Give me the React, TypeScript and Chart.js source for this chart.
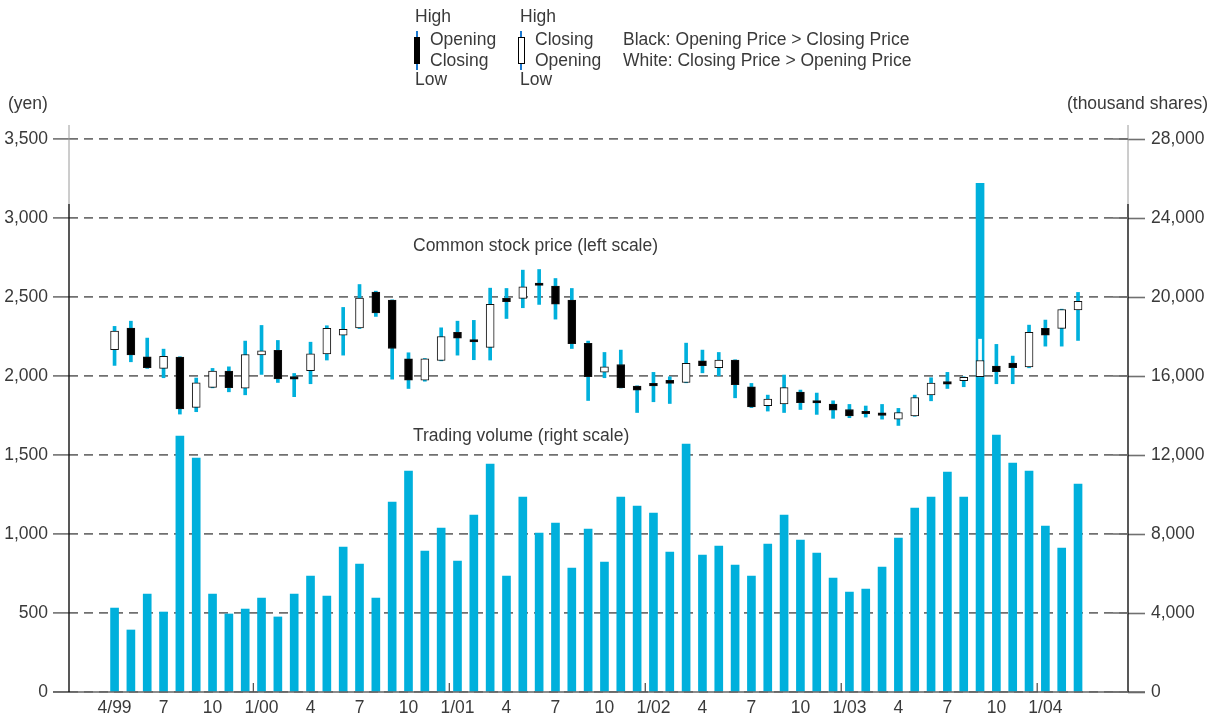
import React, { useEffect, useRef } from 'react';
import { Chart, registerables } from 'chart.js';

Chart.register(...registerables);

// Monthly data, April 1999 – March 2004 (60 months)
const opens = [
  2166, 2303, 2122, 2048, 2120, 1801, 1928, 2031, 1923, 2134,
  2162, 1985, 2033, 2139, 2259, 2305, 2531, 2480, 2109, 1974,
  2098, 2276, 2219, 2181, 2491, 2491, 2577, 2569, 2480, 2206,
  2025, 2073, 1936, 1942, 1972, 1959, 2096, 2052, 2101, 1932,
  1812, 1824, 1898, 1845, 1822, 1788, 1765, 1755, 1727, 1748,
  1881, 1953, 1970, 1995, 2063, 2082, 2058, 2301, 2301, 2419,
];
const highs = [
  2314, 2347, 2240, 2170, 2122, 1987, 2048, 2058, 2221, 2320,
  2225, 2016, 2214, 2318, 2434, 2579, 2537, 2482, 2147, 2111,
  2305, 2347, 2352, 2556, 2554, 2670, 2674, 2617, 2554, 2221,
  2149, 2164, 1938, 2023, 1995, 2208, 2164, 2149, 2103, 1953,
  1879, 2006, 1911, 1892, 1843, 1820, 1810, 1820, 1795, 1879,
  1989, 2023, 1995, 2233, 2200, 2126, 2322, 2354, 2423, 2529,
];
const lows = [
  2067, 2090, 2048, 1989, 1759, 1774, 1925, 1900, 1881, 2010,
  1959, 1869, 1951, 2101, 2132, 2300, 2377, 1980, 1921, 1967,
  2096, 2132, 2103, 2101, 2364, 2432, 2453, 2360, 2174, 1845,
  1989, 1924, 1769, 1837, 1826, 1957, 2020, 2001, 1862, 1800,
  1778, 1769, 1788, 1757, 1732, 1736, 1740, 1727, 1687, 1745,
  1843, 1921, 1932, 1995, 1951, 1951, 2052, 2189, 2189, 2225,
];
const closes = [
  2284, 2134, 2052, 2124, 1791, 1957, 2031, 1926, 2136, 2160,
  1982, 1980, 2141, 2301, 2295, 2493, 2400, 2174, 1974, 2109,
  2250, 2240, 2215, 2453, 2470, 2565, 2573, 2455, 2204, 1995,
  2058, 1926, 1911, 1938, 1953, 2080, 2065, 2101, 1945, 1805,
  1854, 1926, 1831, 1829, 1784, 1748, 1761, 1751, 1769, 1864,
  1955, 1949, 1991, 2098, 2027, 2052, 2276, 2259, 2421, 2472,
];
// Trading volume (thousand shares)
const volumes = [
  4250, 3140, 4960, 4050, 12960, 11840, 4960, 3950, 4200, 4760,
  3800, 4960, 5870, 4860, 7340, 6480, 4760, 9620, 11190, 7140,
  8300, 6630, 8960, 11540, 5870, 9870, 8050, 8550, 6280, 8250,
  6580, 9870, 9410, 9060, 7090, 12550, 6930, 7390, 6430, 5870,
  7490, 8960, 7690, 7040, 5770, 5060, 5210, 6330, 7790, 9310,
  9870, 11130, 9870, 25760, 13010, 11590, 11190, 8400, 7290, 10530,
];
// x-axis labels, one every three months starting at index 0 (4/99)
const xTickLabels = [
  '4/99', '7', '10', '1/00', '4', '7', '10', '1/01', '4', '7',
  '10', '1/02', '4', '7', '10', '1/03', '4', '7', '10', '1/04',
];
// positions of year boundaries (between Dec and Jan)
const yearBoundaries = [8.5, 20.5, 32.5, 44.5, 56.5];
const priceTicks = [0, 500, 1000, 1500, 2000, 2500, 3000, 3500];
const volumeTicks = [0, 4000, 8000, 12000, 16000, 20000, 24000, 28000];

const CYAN = '#00b0dc';
const GRID = '#707070';
const TEXT = '#3a3a3a';
const FONT_FAMILY = "'Liberation Sans', Arial, Helvetica, sans-serif";
const FONT_SIZE = 17.5;

const overlayPlugin = {
  id: 'overlay',
  afterDraw(chart: any) {
    const ctx = chart.ctx as CanvasRenderingContext2D;
    const area = chart.chartArea;
    const xs = chart.scales.x;
    const yp = chart.scales.yPrice;
    ctx.save();
    // solid zero line
    ctx.strokeStyle = '#666';
    ctx.lineWidth = 1.6;
    ctx.beginPath();
    ctx.moveTo(area.left - 16, area.bottom);
    ctx.lineTo(area.right + 17, area.bottom);
    ctx.stroke();
    // axis lines (extend a bit above the plot)
    const drawAxis = (x: number) => {
      ctx.lineWidth = 1;
      ctx.strokeStyle = '#9a9a9a';
      ctx.beginPath();
      ctx.moveTo(x, 125);
      ctx.lineTo(x, 204);
      ctx.stroke();
      ctx.lineWidth = 1.4;
      ctx.strokeStyle = '#111';
      ctx.beginPath();
      ctx.moveTo(x, 204);
      ctx.lineTo(x, area.bottom);
      ctx.stroke();
    };
    drawAxis(area.left);
    drawAxis(area.right);
    // inner solid ticks on the right axis
    ctx.strokeStyle = GRID;
    ctx.lineWidth = 1.6;
    priceTicks.forEach((v) => {
      const y = yp.getPixelForValue(v);
      ctx.beginPath();
      ctx.moveTo(area.right - 15, y);
      ctx.lineTo(area.right, y);
      ctx.stroke();
    });
    // year boundary ticks
    ctx.strokeStyle = '#555';
    ctx.lineWidth = 1.3;
    yearBoundaries.forEach((v) => {
      const x = xs.getPixelForValue(v);
      ctx.beginPath();
      ctx.moveTo(x, area.bottom - 9);
      ctx.lineTo(x, area.bottom);
      ctx.stroke();
    });

    // texts
    ctx.fillStyle = TEXT;
    ctx.font = `${FONT_SIZE}px ${FONT_FAMILY}`;
    ctx.textBaseline = 'middle';
    ctx.textAlign = 'left';
    ctx.fillText('(yen)', 8, 104);
    ctx.textAlign = 'right';
    ctx.fillText('(thousand shares)', 1208, 104);
    ctx.textAlign = 'left';
    ctx.fillText('Common stock price (left scale)', 413, 246);
    ctx.fillText('Trading volume (right scale)', 413, 436);

    // legend
    ctx.fillText('High', 415, 17);
    ctx.fillText('Opening', 430, 40);
    ctx.fillText('Closing', 430, 61);
    ctx.fillText('Low', 415, 80);
    ctx.fillText('High', 520, 17);
    ctx.fillText('Closing', 535, 40);
    ctx.fillText('Opening', 535, 61);
    ctx.fillText('Low', 520, 80);
    ctx.fillText('Black: Opening Price > Closing Price', 623, 40);
    ctx.fillText('White: Closing Price > Opening Price', 623, 61);

    // legend icons
    ctx.fillStyle = '#1a78d0';
    ctx.fillRect(416, 31, 2, 39);
    ctx.fillRect(520, 31, 2, 39);
    ctx.fillStyle = '#000';
    ctx.fillRect(414, 37, 6, 27);
    ctx.fillStyle = '#fff';
    ctx.fillRect(518, 37, 7, 27);
    ctx.strokeStyle = '#000';
    ctx.lineWidth = 1;
    ctx.strokeRect(518.5, 37.5, 6, 26);
    ctx.restore();
  },
};

export default function App() {
  const canvasRef = useRef<HTMLCanvasElement | null>(null);

  useEffect(() => {
    if (!canvasRef.current) return;
    const idx = opens.map((_, i) => i);
    const volumeData = idx.map((i) => ({ x: i, y: volumes[i] }));
    const wickData = idx.map((i) => ({ x: i, y: [lows[i], highs[i]] }));
    const bodyData = idx.map((i) => ({ x: i, y: [opens[i], closes[i]] }));
    const font = { family: FONT_FAMILY, size: FONT_SIZE };

    const chart = new Chart(canvasRef.current, {
      type: 'bar',
      data: {
        datasets: [
          {
            label: 'Trading volume (right scale)',
            data: volumeData as any,
            yAxisID: 'yVol',
            backgroundColor: CYAN,
            barThickness: 8,
            grouped: false,
            order: 3,
          },
          {
            label: 'High-Low',
            data: wickData as any,
            yAxisID: 'yPrice',
            backgroundColor: (c: any) => {
              const s = c.chart.scales;
              const i = c.dataIndex;
              if (!s || !s.yVol || !s.yPrice || i === undefined) return CYAN;
              return s.yVol.getPixelForValue(volumes[i]) < s.yPrice.getPixelForValue(highs[i])
                ? '#ffffff'
                : CYAN;
            },
            barThickness: 3,
            grouped: false,
            order: 2,
          },
          {
            label: 'Common stock price (left scale)',
            data: bodyData as any,
            yAxisID: 'yPrice',
            backgroundColor: idx.map((i) => (opens[i] > closes[i] ? '#000000' : '#ffffff')),
            borderColor: '#111111',
            borderWidth: 1,
            borderSkipped: false,
            barThickness: 8,
            minBarLength: 2.5,
            grouped: false,
            order: 1,
          },
        ],
      },
      options: {
        responsive: false,
        animation: false,
        events: [],
        layout: { padding: { top: 139, left: 0, right: 0, bottom: 0 } },
        plugins: { legend: { display: false }, tooltip: { enabled: false }, title: { display: false } },
        scales: {
          x: {
            type: 'linear',
            min: -2.79,
            max: 62.06,
            offset: false,
            afterBuildTicks: (s: any) => {
              s.ticks = xTickLabels.map((_, k) => ({ value: k * 3 }));
            },
            afterFit: (s: any) => {
              s.height = 24;
            },
            ticks: {
              autoSkip: false,
              maxRotation: 0,
              padding: 6,
              color: TEXT,
              font,
              callback: (_v: any, i: number) => xTickLabels[i],
            },
            grid: { display: false, drawTicks: false },
            border: { display: false },
          },
          yPrice: {
            type: 'linear',
            position: 'left',
            min: 0,
            max: 3500,
            afterBuildTicks: (s: any) => {
              s.ticks = priceTicks.map((v) => ({ value: v }));
            },
            afterFit: (s: any) => {
              s.width = 69;
            },
            ticks: {
              padding: 5,
              color: TEXT,
              font,
              callback: (v: any) => Number(v).toLocaleString('en-US'),
            },
            grid: {
              color: GRID,
              lineWidth: 1.8,
              tickLength: 16,
              tickBorderDash: [],
              tickColor: GRID,
              tickWidth: 1.6,
            },
            border: { display: false, dash: [9, 6] },
          },
          yVol: {
            type: 'linear',
            position: 'right',
            min: 0,
            max: 28000,
            afterBuildTicks: (s: any) => {
              s.ticks = volumeTicks.map((v) => ({ value: v }));
            },
            afterFit: (s: any) => {
              s.width = 87;
            },
            ticks: {
              padding: 6,
              color: TEXT,
              font,
              callback: (v: any) => Number(v).toLocaleString('en-US'),
            },
            grid: {
              drawOnChartArea: false,
              tickLength: 17,
              tickColor: GRID,
              tickWidth: 1.6,
            },
            border: { display: false },
          },
        },
      } as any,
      plugins: [overlayPlugin],
    });
    return () => chart.destroy();
  }, []);

  return (
    <div style={{ position: 'fixed', left: 0, top: 0, width: 1215, height: 716, background: '#fff' }}>
      <canvas ref={canvasRef} width={1215} height={716} />
    </div>
  );
}
